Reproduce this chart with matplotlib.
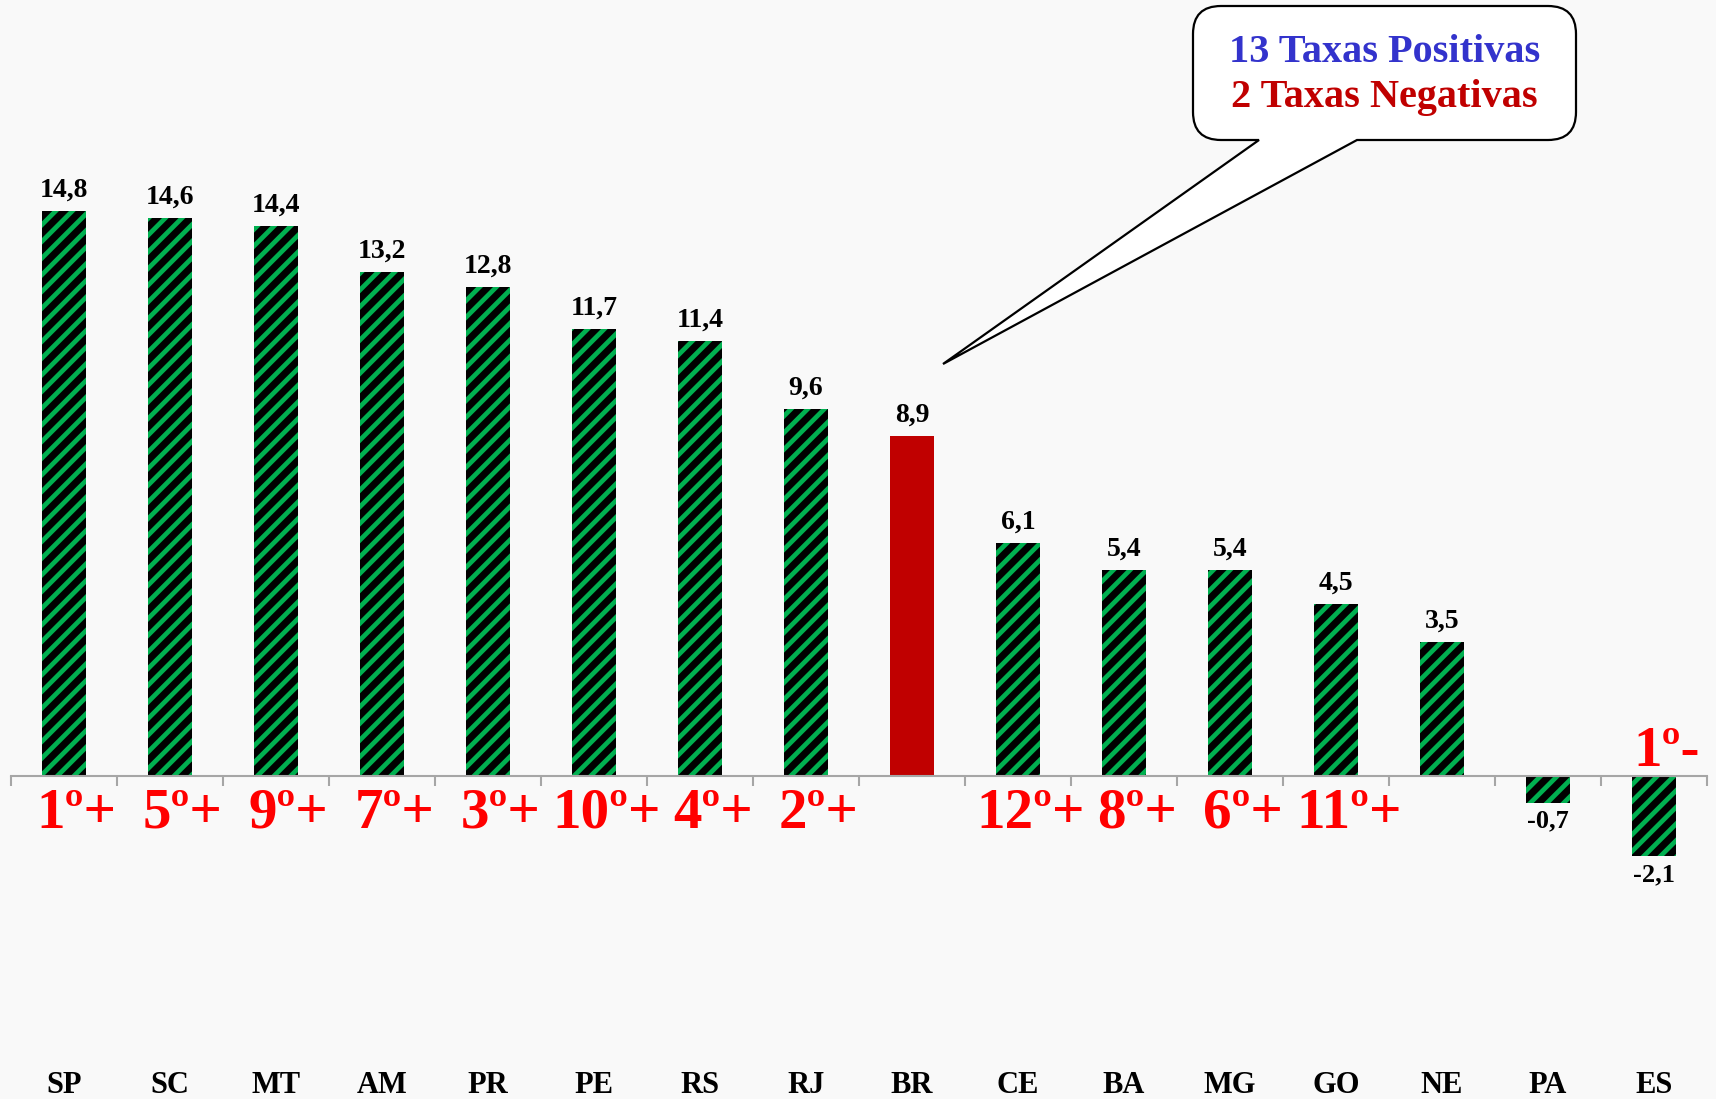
"""Bar chart of growth rates by state with ranking labels and callout."""

import numpy as np
import matplotlib
matplotlib.use("Agg")
import matplotlib.pyplot as plt
from matplotlib.path import Path
from matplotlib.patches import PathPatch

# data
states = ["SP", "SC", "MT", "AM", "PR", "PE", "RS", "RJ", "BR",
          "CE", "BA", "MG", "GO", "NE", "PA", "ES"]
rates = [14.8, 14.6, 14.4, 13.2, 12.8, 11.7, 11.4, 9.6, 8.9,
         6.1, 5.4, 5.4, 4.5, 3.5, -0.7, -2.1]
ranks = ["1º+", "5º+", "9º+", "7º+", "3º+", "10º+", "4º+", "2º+", "",
         "12º+", "8º+", "6º+", "11º+", "", "", "1º-"]
highlight = "BR"
callout_lines = ["13 Taxas Positivas", "2 Taxas Negativas"]

W, H = 1716, 1099
BG = "#F9F9F9"
GREEN = "#00B050"
RED_BAR = "#C00000"
SERIF = ["Liberation Serif", "DejaVu Serif"]

plt.rcParams["hatch.color"] = GREEN
plt.rcParams["hatch.linewidth"] = 3.4

fig = plt.figure(figsize=(W / 100, H / 100), dpi=100, facecolor=BG)
ax = fig.add_axes([11 / W, 0, 1696 / W, 1])
ax.set_facecolor(BG)

px_per_unit = 38.2
zero_px = 776
ax.set_xlim(-0.5, len(states) - 0.5)
ax.set_ylim(-(H - zero_px) / px_per_unit, zero_px / px_per_unit)

x = np.arange(len(states))
for i, (st, v) in enumerate(zip(states, rates)):
    if st == highlight:
        ax.bar(i, v, width=0.41, color=RED_BAR, zorder=2)
    else:
        ax.bar(i, v, width=0.41, color="black", hatch="//", zorder=2)

    # value labels
    if v >= 0:
        ax.annotate(f"{v:.1f}".replace(".", ","), (i, v), xytext=(0, 6),
                    textcoords="offset points", ha="center", va="bottom",
                    fontsize=20, fontweight="bold", family=SERIF)
    else:
        ax.annotate(f"{v:.1f}".replace(".", ","), (i, v), xytext=(0, -5),
                    textcoords="offset points", ha="center", va="top",
                    fontsize=19, fontweight="bold", family=SERIF)

    # ranking labels
    if ranks[i]:
        y_txt = 0.26 if v < 0 and ranks[i].endswith("-") else -1.36
        ax.text(i + 0.12, y_txt, ranks[i], ha="center", va="baseline",
                fontsize=41, fontweight="bold", color="red", family=SERIF)

    # category labels at the bottom
    ax.text(i, 6 / H, st, transform=ax.get_xaxis_transform(),
            ha="center", va="baseline", fontsize=22, fontweight="bold",
            family=SERIF)

# axis line at zero with ticks between categories
for s in ["top", "right", "left"]:
    ax.spines[s].set_visible(False)
ax.spines["bottom"].set_position(("data", 0))
ax.spines["bottom"].set_color("#A6A6A6")
ax.spines["bottom"].set_linewidth(1.5)
ax.spines["bottom"].set_zorder(3)
ax.set_xticks(np.arange(-0.5, len(states), 1))
ax.tick_params(axis="x", length=7, width=1.5, color="#A6A6A6",
               direction="out", labelbottom=False)
ax.set_yticks([])

# callout bubble (pixel coords, top-down)
x0, x1, top, bot, r = 1193, 1576, 6, 140, 28
t_left, t_right, tip = 1259, 1357, (943, 364)


def fp(px, py):
    return (px / W, (H - py) / H)


verts = [fp(x0 + r, top), fp(x1 - r, top), fp(x1, top), fp(x1, top + r),
         fp(x1, bot - r), fp(x1, bot), fp(x1 - r, bot),
         fp(t_right, bot), fp(*tip), fp(t_left, bot),
         fp(x0 + r, bot), fp(x0, bot), fp(x0, bot - r),
         fp(x0, top + r), fp(x0, top), fp(x0 + r, top), fp(x0 + r, top)]
codes = [Path.MOVETO, Path.LINETO, Path.CURVE3, Path.CURVE3,
         Path.LINETO, Path.CURVE3, Path.CURVE3,
         Path.LINETO, Path.LINETO, Path.LINETO,
         Path.LINETO, Path.CURVE3, Path.CURVE3,
         Path.LINETO, Path.CURVE3, Path.CURVE3, Path.CLOSEPOLY]
bubble = PathPatch(Path(verts, codes), facecolor="white", edgecolor="black",
                   linewidth=1.6, transform=fig.transFigure, zorder=5)
fig.add_artist(bubble)

cx = (x0 + x1) / 2 / W
fig.text(cx, (H - 53) / H, callout_lines[0], ha="center", va="center",
         fontsize=29, fontweight="bold", color="#3333CC", family=SERIF, zorder=6)
fig.text(cx, (H - 98) / H, callout_lines[1], ha="center", va="center",
         fontsize=29, fontweight="bold", color=RED_BAR, family=SERIF, zorder=6)

fig.savefig("out.png", dpi=100, facecolor=BG)
